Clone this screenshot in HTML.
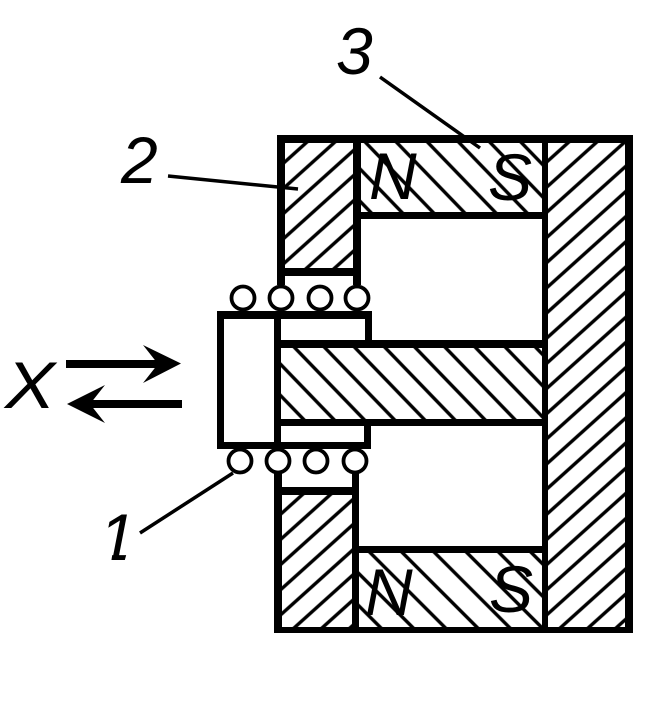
<!DOCTYPE html>
<html>
<head>
<meta charset="utf-8">
<style>
html,body{margin:0;padding:0;background:#fff;width:667px;height:727px;overflow:hidden}
svg{display:block}
text{font-family:"Liberation Sans",sans-serif;font-style:italic;font-size:66px;fill:#000}
</style>
</head>
<body>
<svg width="667" height="727" viewBox="0 0 667 727" xmlns="http://www.w3.org/2000/svg">
<defs>
<pattern id="hTL" patternUnits="userSpaceOnUse" width="18.700" height="20" patternTransform="translate(285,187) rotate(48)"><rect x="-1.700" y="0" width="3.400" height="20"/><rect x="17" y="0" width="3.400" height="20"/></pattern>
<pattern id="hR" patternUnits="userSpaceOnUse" width="18.700" height="20" patternTransform="translate(548,186) rotate(48)"><rect x="-1.700" y="0" width="3.400" height="20"/><rect x="17" y="0" width="3.400" height="20"/></pattern>
<pattern id="hBL" patternUnits="userSpaceOnUse" width="18.700" height="20" patternTransform="translate(282,513) rotate(48)"><rect x="-1.700" y="0" width="3.400" height="20"/><rect x="17" y="0" width="3.400" height="20"/></pattern>
<pattern id="hMT" patternUnits="userSpaceOnUse" width="22.400" height="20" patternTransform="translate(495,212) rotate(-44)"><rect x="-1.700" y="0" width="3.400" height="20"/><rect x="20.700" y="0" width="3.400" height="20"/></pattern>
<pattern id="hMB" patternUnits="userSpaceOnUse" width="22.800" height="20" patternTransform="translate(435,553) rotate(-45)"><rect x="-1.700" y="0" width="3.400" height="20"/><rect x="21.100" y="0" width="3.400" height="20"/></pattern>
<pattern id="hC" patternUnits="userSpaceOnUse" width="21.700" height="20" patternTransform="translate(295,348) rotate(-44)"><rect x="-1.700" y="0" width="3.400" height="20"/><rect x="20" y="0" width="3.400" height="20"/></pattern>
<clipPath id="one"><polygon points="100,505 140,505 124,563 111,563 115,537 100,537"/></clipPath>
</defs>

<!-- hatching -->
<g shape-rendering="crispEdges">
<rect x="285" y="143" width="69" height="126" fill="url(#hTL)"/>
<rect x="548" y="143" width="77" height="484" fill="url(#hR)"/>
<rect x="282" y="495" width="70" height="132" fill="url(#hBL)"/>
<rect x="361" y="143" width="181" height="69" fill="url(#hMT)"/>
<rect x="359" y="553" width="183" height="74" fill="url(#hMB)"/>
<rect x="281" y="348" width="261" height="71" fill="url(#hC)"/>

<!-- frame -->
<rect x="277" y="135" width="356" height="8"/>
<rect x="625" y="135" width="8" height="498"/>
<rect x="274" y="627" width="359" height="6"/>
<rect x="542" y="135" width="6" height="498"/>
<rect x="277" y="135" width="8" height="150"/>
<rect x="353" y="135" width="8" height="150"/>
<rect x="277" y="268" width="84" height="8"/>
<rect x="361" y="212" width="181" height="7"/>
<rect x="274" y="470" width="8" height="163"/>
<rect x="352" y="470" width="7" height="163"/>
<rect x="274" y="487" width="85" height="8"/>
<rect x="359" y="546" width="183" height="7"/>

<!-- core -->
<rect x="274" y="340" width="268" height="8"/>
<rect x="274" y="419" width="268" height="7"/>
</g>

<!-- coils -->
<g fill="#fff" stroke="#000" stroke-width="3.800">
<circle cx="243" cy="298" r="11.500"/>
<circle cx="281" cy="298" r="11.500"/>
<circle cx="320" cy="298" r="11.500"/>
<circle cx="357" cy="298" r="11.500"/>
<circle cx="240" cy="461" r="11.500"/>
<circle cx="278" cy="461" r="11.500"/>
<circle cx="316" cy="461" r="11.500"/>
<circle cx="355" cy="461" r="11.500"/>
</g>

<!-- slider -->
<g shape-rendering="crispEdges">
<rect x="217" y="311" width="155" height="8"/>
<rect x="217" y="311" width="7" height="138"/>
<rect x="217" y="442" width="154" height="7"/>
<rect x="274" y="311" width="7" height="138"/>
<rect x="365" y="311" width="7" height="30"/>
<rect x="364" y="425" width="7" height="24"/>
</g>

<!-- leaders -->
<g stroke="#000" stroke-width="3.500" fill="none">
<line x1="380" y1="77" x2="480" y2="148"/>
<line x1="168" y1="176" x2="298" y2="189"/>
<line x1="140" y1="533" x2="233" y2="473"/>
</g>

<!-- arrows -->
<rect x="66" y="360" width="95" height="8" shape-rendering="crispEdges"/>
<polygon points="181,363.500 143,345 158,364 143,383"/>
<rect x="88" y="400" width="94" height="8" shape-rendering="crispEdges"/>
<polygon points="67,404 105,385 90,404 105,423"/>

<!-- labels -->
<text x="5" y="408" textLength="50" lengthAdjust="spacingAndGlyphs">X</text>
<text x="336" y="74">3</text>
<text x="121" y="183">2</text>
<text x="99" y="560" clip-path="url(#one)">1</text>
<text x="369" y="199">N</text>
<text x="488" y="200">S</text>
<text x="365" y="615">N</text>
<text x="489" y="612">S</text>
</svg>
</body>
</html>
